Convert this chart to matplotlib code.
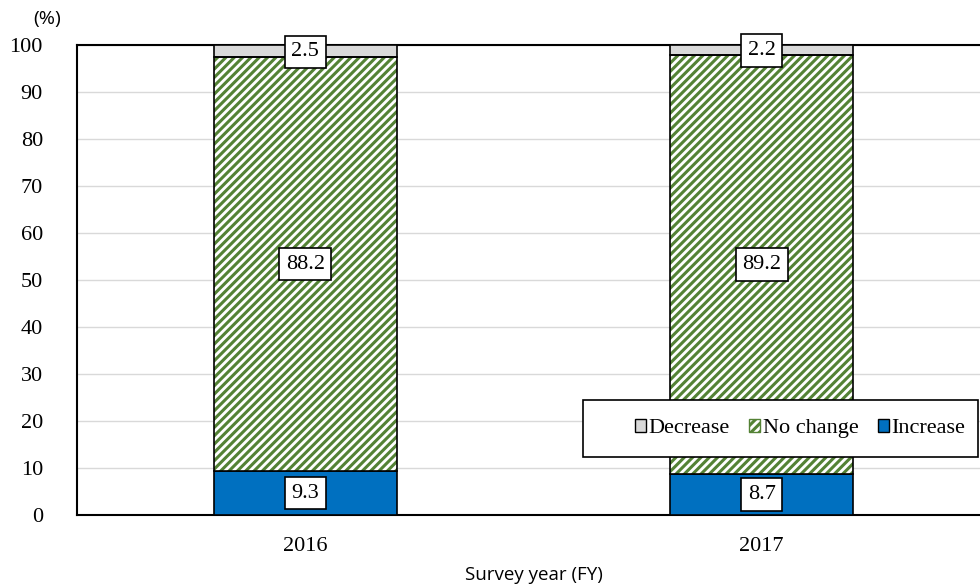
import matplotlib.pyplot as plt
from matplotlib.patches import Rectangle
import numpy as np

plt.rcParams['hatch.linewidth'] = 2.2

years = ['2016', '2017']
increase = [9.3, 8.7]
no_change = [88.2, 89.2]
decrease = [2.5, 2.2]

serif = 'Liberation Serif'
sans = 'Open Sans'

fig = plt.figure(figsize=(9.8, 5.87), dpi=100)
ax = fig.add_axes([77 / 980, 72 / 587, 913 / 980, 470 / 587])

x = np.arange(len(years))
w = 0.4
inc = np.array(increase)
noc = np.array(no_change)
dec = np.array(decrease)

b1 = ax.bar(x, inc, w, color='#0070C0', edgecolor='black', linewidth=1.2,
            label='Increase', zorder=3)
b2 = ax.bar(x, noc, w, bottom=inc, color='white', edgecolor='#548235',
            hatch='////', linewidth=0, label='No change', zorder=3)
# outline for the hatched segment
ax.bar(x, noc, w, bottom=inc, color='none', edgecolor='black',
       linewidth=1.2, zorder=4)
b3 = ax.bar(x, dec, w, bottom=inc + noc, color='#D9D9D9', edgecolor='black',
            linewidth=1.2, label='Decrease', zorder=3)

box = dict(boxstyle='square,pad=0.3', facecolor='white', edgecolor='black',
           linewidth=1.2)
for i in range(len(years)):
    ax.text(x[i], inc[i] / 2, f'{inc[i]:.1f}', ha='center', va='center',
            fontsize=16, family=serif, bbox=box, zorder=6)
    ax.text(x[i], inc[i] + noc[i] / 2, f'{noc[i]:.1f}', ha='center',
            va='center', fontsize=16, family=serif, bbox=box, zorder=6)
    ax.text(x[i], inc[i] + noc[i] + dec[i] / 2 - 0.2, f'{dec[i]:.1f}',
            ha='center', va='center', fontsize=16, family=serif, bbox=box,
            zorder=6)

ax.set_xlim(-0.5, 1.5)
ax.set_ylim(0, 100)
ax.set_yticks(np.arange(0, 101, 10))
ax.set_xticks(x, labels=years)
ax.tick_params(length=0, labelsize=16)
ax.tick_params(axis='y', pad=24.5)
ax.tick_params(axis='x', pad=16)
for lab in ax.get_xticklabels() + ax.get_yticklabels():
    lab.set_family(serif)
ax.grid(axis='y', color='#D9D9D9', linewidth=1, zorder=0)
for s in ['left', 'top', 'bottom']:
    ax.spines[s].set_linewidth(1.5)
ax.spines['right'].set_visible(False)

ax.set_xlabel('Survey year (FY)', fontsize=13.5, family=sans, labelpad=7)
fig.text(47 / 980, 1 - 19 / 587, '(%)', fontsize=14, family=sans,
         ha='center', va='center')

# legend frame drawn separately so the entries can sit right of centre
frame = Rectangle((0.554, 0.1234), 0.433, 0.1213, transform=ax.transAxes,
                  facecolor='white', edgecolor='black', linewidth=1.2,
                  zorder=7)
ax.add_patch(frame)
leg = ax.legend(handles=[b3, b2, b1], loc='center',
                bbox_to_anchor=(0.792, 0.184), ncol=3, frameon=False,
                prop={'family': serif, 'size': 16}, handlelength=0.5,
                handleheight=0.5, handletextpad=0.1, columnspacing=0.9,
                borderpad=0, borderaxespad=0)
leg.set_zorder(8)
for h in leg.legend_handles:
    h.set_edgecolor('black')
    h.set_linewidth(1)
leg.legend_handles[1].set_edgecolor('#548235')

fig.savefig('out.png', dpi=100)
